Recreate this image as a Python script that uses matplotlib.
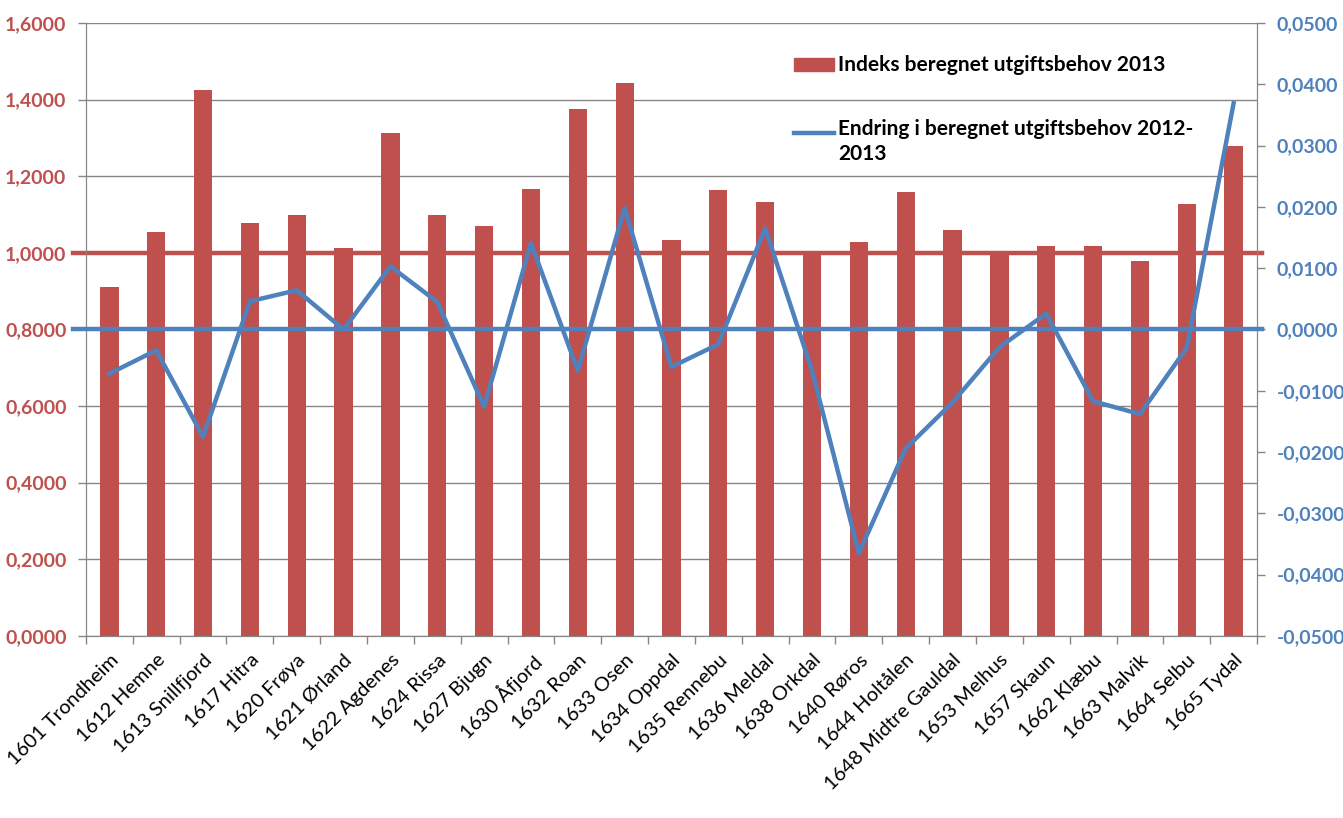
import matplotlib.pyplot as plt
from matplotlib.ticker import FuncFormatter, FixedLocator
from matplotlib.patches import Rectangle
from matplotlib.lines import Line2D

plt.rcParams['font.family'] = ['Lato', 'DejaVu Sans']

RED = '#C0504D'
BLUE = '#4F81BD'
GRID = '#868686'

kommuner = ['1601 Trondheim', '1612 Hemne', '1613 Snillfjord', '1617 Hitra',
            '1620 Frøya', '1621 Ørland', '1622 Agdenes', '1624 Rissa',
            '1627 Bjugn', '1630 Åfjord', '1632 Roan', '1633 Osen',
            '1634 Oppdal', '1635 Rennebu', '1636 Meldal', '1638 Orkdal',
            '1640 Røros', '1644 Holtålen', '1648 Midtre Gauldal', '1653 Melhus',
            '1657 Skaun', '1662 Klæbu', '1663 Malvik', '1664 Selbu', '1665 Tydal']

indeks_2013 = [0.911, 1.054, 1.425, 1.078, 1.099, 1.013, 1.313, 1.099,
               1.070, 1.167, 1.376, 1.443, 1.034, 1.164, 1.133, 1.003,
               1.028, 1.159, 1.060, 1.003, 1.018, 1.018, 0.979, 1.128, 1.279]

endring_2012_2013 = [-0.0072, -0.0034, -0.0175, 0.0046, 0.0064, 0.0000, 0.0103,
                     0.0045, -0.0126, 0.0141, -0.0067, 0.0198, -0.0061, -0.0024,
                     0.0165, -0.0067, -0.0365, -0.0194, -0.0119, -0.0029, 0.0026,
                     -0.0117, -0.0138, -0.0030, 0.0369]

left_ticks = [0.0, 0.2, 0.4, 0.6, 0.8, 1.0, 1.2, 1.4, 1.6]
right_ticks = [-0.05, -0.04, -0.03, -0.02, -0.01, 0.0, 0.01, 0.02, 0.03, 0.04, 0.05]

label_bar = 'Indeks beregnet utgiftsbehov 2013'
label_line = 'Endring i beregnet utgiftsbehov 2012-\n2013'


def komma(v, pos=None):
    s = f'{v:.4f}'.replace('.', ',')
    return '0,0000' if s == '-0,0000' else s


fig = plt.figure(figsize=(13.43, 8.18), dpi=100)
ax = fig.add_axes([0.0640, 0.2225, 0.8720, 0.7494])
ax2 = ax.twinx()

x = list(range(len(kommuner)))
ax.bar(x, indeks_2013, width=0.39, color=RED, zorder=2)
ax.set_xlim(-0.5, len(kommuner) - 0.5)
ax.set_ylim(0, 1.6)
ax.yaxis.set_major_locator(FixedLocator(left_ticks))
ax.yaxis.set_major_formatter(FuncFormatter(komma))
ax.grid(axis='y', color=GRID, lw=1, zorder=0)
ax.set_axisbelow(True)

# referanselinje ved 1,0
ax.axhline(1.0, xmin=-0.011, xmax=1.004, color=RED, lw=3.2, clip_on=False, zorder=3)

ax2.set_ylim(-0.05, 0.05)
ax2.yaxis.set_major_locator(FixedLocator(right_ticks))
ax2.yaxis.set_major_formatter(FuncFormatter(komma))
ax2.axhline(0.0, xmin=-0.011, xmax=1.004, color=BLUE, lw=3.2, clip_on=False, zorder=3)
ax2.plot(x, endring_2012_2013, color=BLUE, lw=3.2, zorder=4)

# x-akse
ax.set_xticks(x)
ax.set_xticklabels(kommuner, rotation=45, ha='right', va='top',
                   rotation_mode='anchor', fontsize=14.5)
ax.set_xticks([i - 0.5 for i in range(len(kommuner) + 1)], minor=True)
ax.tick_params(axis='x', which='major', length=0, pad=11)
ax.tick_params(axis='x', which='minor', length=6, color=GRID, width=1)

ax.tick_params(axis='y', length=6, color=GRID, width=1, pad=8,
               labelcolor=RED, labelsize=14)
ax2.tick_params(axis='y', length=6, color=GRID, width=1, pad=8,
                labelcolor=BLUE, labelsize=14)
for t in ax.get_yticklabels():
    t.set_fontweight('bold')
for t in ax2.get_yticklabels():
    t.set_fontweight('bold')

for a in (ax, ax2):
    a.spines['top'].set_visible(False)
    for s in ('left', 'right', 'bottom'):
        a.spines[s].set_color(GRID)

# legende
ax2.add_patch(Rectangle((0.6046, 0.9217), 0.0342, 0.0213, transform=ax2.transAxes,
                        color=RED, clip_on=False, zorder=5))
ax2.text(0.642, 0.932, label_bar, transform=ax2.transAxes, fontsize=15,
         fontweight='bold', va='center', ha='left')
ax2.add_line(Line2D([0.6046, 0.6388], [0.8206, 0.8206], transform=ax2.transAxes,
                    color=BLUE, lw=3.2, zorder=5))
ax2.text(0.642, 0.8206 + 0.023, label_line, transform=ax2.transAxes, fontsize=15,
         fontweight='bold', va='top', ha='left', linespacing=1.35)

fig.savefig('out.png', dpi=100)
